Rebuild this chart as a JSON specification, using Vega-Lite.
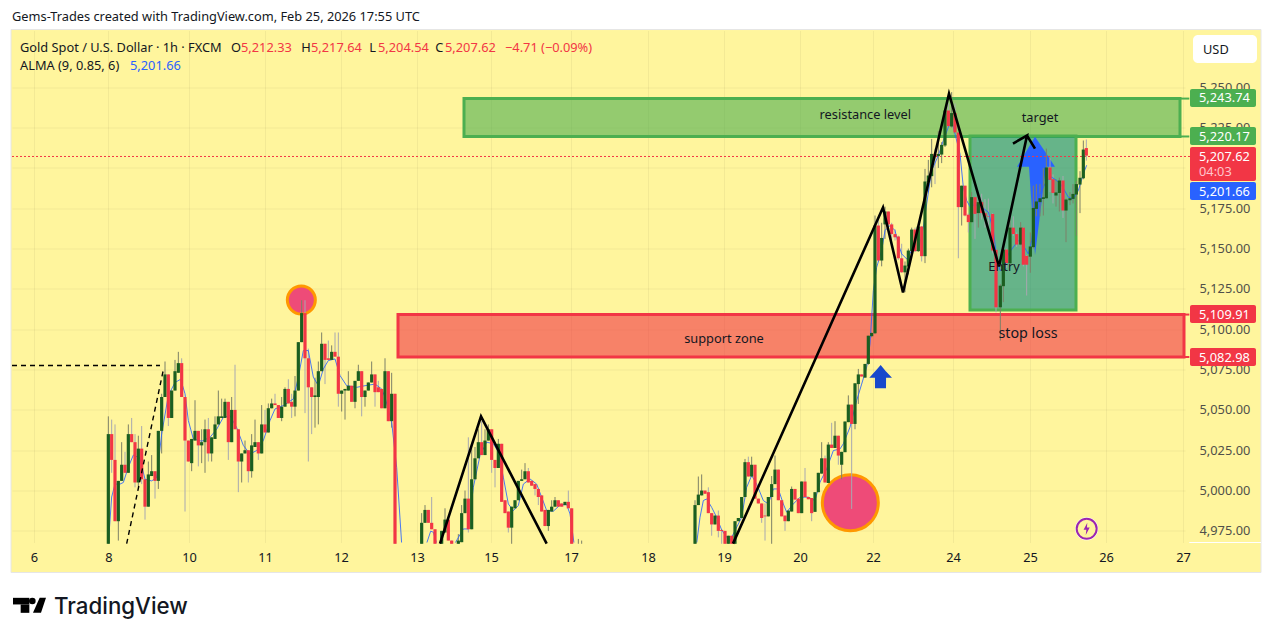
{"$schema":"https://vega.github.io/schema/vega-lite/v6.json","width":1173,"height":512,"autosize":"none","padding":{"left":12,"top":30.5,"right":87,"bottom":96.5},"background":"#FFF59D","view":{"stroke":null},"config":{"font":"Noto Sans","text":{"font":"Noto Sans"}},
"datasets":{"candles":[
{"b":0,"o":4967,"h":5046,"l":4967,"c":5035},{"b":1,"o":5035,"h":5044,"l":5011,"c":5019},{"b":2,"o":5019,"h":5041,"l":4981,"c":4981},{"b":3,"o":4981,"h":5006,"l":4969,"c":5006},{"b":4,"o":5006,"h":5030,"l":5006,"c":5016},{"b":5,"o":5016,"h":5024,"l":5011,"c":5011},{"b":6,"o":5011,"h":5041,"l":5011,"c":5035},{"b":7,"o":5035,"h":5045,"l":5030,"c":5030},{"b":8,"o":5030,"h":5035,"l":5002,"c":5005},{"b":9,"o":5005,"h":5034,"l":5002,"c":5026},
{"b":10,"o":5026,"h":5040,"l":5004,"c":5007},{"b":11,"o":5007,"h":5007,"l":4982,"c":4990},{"b":12,"o":4990,"h":5018,"l":4990,"c":5010},{"b":13,"o":5009,"h":5022,"l":5009,"c":5012},{"b":14,"o":5012,"h":5012,"l":4995,"c":5006},{"b":15,"o":5006,"h":5037,"l":5001,"c":5037},{"b":16,"o":5037,"h":5060,"l":5023,"c":5058},{"b":17,"o":5058,"h":5080,"l":5058,"c":5072},{"b":18,"o":5072,"h":5072,"l":5040,"c":5045},{"b":19,"o":5045,"h":5062,"l":5045,"c":5062},
{"b":20,"o":5062,"h":5081,"l":5062,"c":5074},{"b":21,"o":5073,"h":5086,"l":5073,"c":5079},{"b":22,"o":5079,"h":5082,"l":5058,"c":5058},{"b":23,"o":5058,"h":5058,"l":4987,"c":5031},{"b":24,"o":5031,"h":5031,"l":5018,"c":5018},{"b":25,"o":5017,"h":5032,"l":5012,"c":5032},{"b":26,"o":5031,"h":5056,"l":5031,"c":5037},{"b":27,"o":5037,"h":5037,"l":5015,"c":5028},{"b":28,"o":5028,"h":5038,"l":5017,"c":5030},{"b":29,"o":5030,"h":5044,"l":5011,"c":5038},
{"b":30,"o":5038,"h":5045,"l":5018,"c":5023},{"b":31,"o":5023,"h":5033,"l":5018,"c":5033},{"b":32,"o":5032,"h":5046,"l":5032,"c":5041},{"b":33,"o":5041,"h":5062,"l":5041,"c":5046},{"b":34,"o":5045,"h":5057,"l":5045,"c":5046},{"b":35,"o":5045,"h":5057,"l":5045,"c":5055},{"b":36,"o":5055,"h":5055,"l":5019,"c":5030},{"b":37,"o":5030,"h":5058,"l":5030,"c":5050},{"b":38,"o":5050,"h":5078,"l":5038,"c":5038},{"b":39,"o":5038,"h":5038,"l":4999,"c":5018},
{"b":40,"o":5018,"h":5023,"l":5005,"c":5023},{"b":41,"o":5023,"h":5031,"l":5023,"c":5025},{"b":42,"o":5025,"h":5025,"l":5005,"c":5012},{"b":43,"o":5012,"h":5035,"l":5008,"c":5028},{"b":44,"o":5027,"h":5044,"l":5027,"c":5030},{"b":45,"o":5030,"h":5030,"l":5019,"c":5023},{"b":46,"o":5023,"h":5053,"l":5023,"c":5041},{"b":47,"o":5041,"h":5050,"l":5036,"c":5036},{"b":48,"o":5036,"h":5054,"l":5036,"c":5051},{"b":49,"o":5051,"h":5057,"l":5051,"c":5054},
{"b":50,"o":5054,"h":5060,"l":5053,"c":5053},{"b":51,"o":5053,"h":5053,"l":5045,"c":5045},{"b":52,"o":5045,"h":5058,"l":5043,"c":5052},{"b":53,"o":5052,"h":5064,"l":5052,"c":5063},{"b":54,"o":5063,"h":5069,"l":5054,"c":5054},{"b":55,"o":5055,"h":5060,"l":5045,"c":5052},{"b":56,"o":5052,"h":5071,"l":5046,"c":5062},{"b":57,"o":5062,"h":5092,"l":5062,"c":5092},{"b":58,"o":5092,"h":5118,"l":5092,"c":5110},{"b":59,"o":5110,"h":5118,"l":5048,"c":5082},
{"b":60,"o":5082,"h":5088,"l":5018,"c":5064},{"b":61,"o":5064,"h":5064,"l":5035,"c":5058},{"b":62,"o":5058,"h":5070,"l":5039,"c":5059},{"b":63,"o":5058,"h":5080,"l":5041,"c":5074},{"b":64,"o":5074,"h":5098,"l":5074,"c":5091},{"b":65,"o":5091,"h":5091,"l":5066,"c":5081},{"b":66,"o":5082,"h":5093,"l":5081,"c":5081},{"b":67,"o":5081,"h":5090,"l":5081,"c":5086},{"b":68,"o":5086,"h":5098,"l":5083,"c":5083},{"b":69,"o":5083,"h":5098,"l":5052,"c":5060},
{"b":70,"o":5060,"h":5062,"l":5049,"c":5062},{"b":71,"o":5062,"h":5063,"l":5044,"c":5063},{"b":72,"o":5062,"h":5074,"l":5062,"c":5065},{"b":73,"o":5065,"h":5065,"l":5055,"c":5055},{"b":74,"o":5055,"h":5068,"l":5051,"c":5068},{"b":75,"o":5068,"h":5078,"l":5068,"c":5074},{"b":76,"o":5074,"h":5074,"l":5046,"c":5058},{"b":77,"o":5058,"h":5062,"l":5052,"c":5062},{"b":78,"o":5062,"h":5067,"l":5062,"c":5067},{"b":79,"o":5067,"h":5080,"l":5067,"c":5072},
{"b":80,"o":5072,"h":5072,"l":5052,"c":5061},{"b":81,"o":5064,"h":5068,"l":5061,"c":5061},{"b":82,"o":5063,"h":5063,"l":5051,"c":5051},{"b":83,"o":5051,"h":5082,"l":5051,"c":5074},{"b":84,"o":5074,"h":5074,"l":5043,"c":5043},{"b":85,"o":5043,"h":5073,"l":5039,"c":5060},{"b":86,"o":5060,"h":5060,"l":4967,"c":4967},
{"b":94,"o":4967,"h":4986,"l":4967,"c":4980},{"b":95,"o":4980,"h":4991,"l":4980,"c":4988},{"b":96,"o":4988,"h":4988,"l":4980,"c":4980},{"b":97,"o":4980,"h":4996,"l":4976,"c":4976},{"b":98,"o":4976,"h":4976,"l":4967,"c":4967},{"b":100,"o":4967,"h":4975,"l":4967,"c":4975},{"b":101,"o":4974,"h":4989,"l":4974,"c":4982},{"b":102,"o":4982,"h":4982,"l":4969,"c":4969},{"b":103,"o":4969,"h":4969,"l":4967,"c":4967},{"b":105,"o":4967,"h":4973,"l":4967,"c":4969},
{"b":106,"o":4968,"h":4991,"l":4968,"c":4986},{"b":107,"o":4986,"h":5000,"l":4986,"c":4995},{"b":108,"o":4995,"h":5033,"l":4974,"c":4976},{"b":109,"o":4976,"h":5029,"l":4976,"c":5007},{"b":110,"o":5007,"h":5027,"l":5007,"c":5020},{"b":111,"o":5020,"h":5038,"l":5020,"c":5030},{"b":112,"o":5030,"h":5043,"l":5022,"c":5022},{"b":113,"o":5022,"h":5038,"l":5022,"c":5031},{"b":114,"o":5031,"h":5041,"l":5031,"c":5038},{"b":115,"o":5038,"h":5038,"l":5011,"c":5019},
{"b":116,"o":5019,"h":5019,"l":5002,"c":5014},{"b":117,"o":5014,"h":5032,"l":5014,"c":5029},{"b":118,"o":5029,"h":5029,"l":4993,"c":4993},{"b":119,"o":4994,"h":4994,"l":4986,"c":4986},{"b":120,"o":4987,"h":4987,"l":4974,"c":4977},{"b":121,"o":4977,"h":4990,"l":4967,"c":4990},{"b":122,"o":4989,"h":4994,"l":4989,"c":4994},{"b":123,"o":4994,"h":5006,"l":4994,"c":5006},{"b":124,"o":5006,"h":5013,"l":5006,"c":5007},{"b":125,"o":5007,"h":5017,"l":5007,"c":5012},
{"b":126,"o":5012,"h":5014,"l":5005,"c":5005},{"b":127,"o":5006,"h":5006,"l":5003,"c":5003},{"b":128,"o":5004,"h":5004,"l":4997,"c":5001},{"b":129,"o":5001,"h":5001,"l":4991,"c":4996},{"b":130,"o":4997,"h":4997,"l":4987,"c":4987},{"b":131,"o":4988,"h":4988,"l":4978,"c":4978},{"b":132,"o":4978,"h":4988,"l":4975,"c":4988},{"b":133,"o":4987,"h":4994,"l":4987,"c":4990},{"b":134,"o":4990,"h":4996,"l":4990,"c":4994},{"b":135,"o":4994,"h":4994,"l":4990,"c":4990},
{"b":136,"o":4992,"h":4992,"l":4990,"c":4990},{"b":137,"o":4991,"h":4993,"l":4991,"c":4993},{"b":138,"o":4993,"h":5000,"l":4989,"c":4989},{"b":139,"o":4989,"h":4989,"l":4967,"c":4967},{"b":141,"o":4967,"h":4970,"l":4967,"c":4967},{"b":142,"o":4967,"h":4969,"l":4967,"c":4967},
{"b":176,"o":4967,"h":4994,"l":4967,"c":4991},{"b":177,"o":4991,"h":5008.7,"l":4991,"c":4997.5},{"b":178,"o":4997,"h":5010,"l":4997,"c":5000},{"b":179,"o":5000,"h":5000,"l":4998,"c":4998},{"b":180,"o":4999,"h":5002,"l":4986,"c":4986},{"b":181,"o":4986,"h":4986,"l":4972,"c":4979},{"b":182,"o":4979,"h":4984.5,"l":4979,"c":4984.5},{"b":183,"o":4984.5,"h":4987.6,"l":4971,"c":4975},{"b":184,"o":4975.6,"h":4976,"l":4967,"c":4975},{"b":185,"o":4975,"h":4975,"l":4967,"c":4967},
{"b":186,"o":4967,"h":4972,"l":4967,"c":4972},{"b":187,"o":4972,"h":4972,"l":4967,"c":4967},{"b":188,"o":4967,"h":4981,"l":4967,"c":4981},{"b":189,"o":4981,"h":4983,"l":4981,"c":4983},{"b":190,"o":4983,"h":4996,"l":4983,"c":4996},{"b":191,"o":4996,"h":5019.6,"l":4996,"c":5017.6},{"b":192,"o":5017.6,"h":5021,"l":5008.7,"c":5008.7},{"b":193,"o":5008.7,"h":5021,"l":5008.7,"c":5016},{"b":194,"o":5016,"h":5016,"l":4995,"c":4995},{"b":195,"o":4995,"h":4995,"l":4992,"c":4992},
{"b":196,"o":4992,"h":4992,"l":4980,"c":4983},{"b":197,"o":4984.5,"h":4992,"l":4969,"c":4984},{"b":198,"o":4984,"h":4996,"l":4984,"c":4996},{"b":199,"o":4996,"h":5009,"l":4967,"c":5004},{"b":200,"o":5004,"h":5021.7,"l":5004,"c":5013},{"b":201,"o":5013,"h":5013,"l":4994,"c":4994},{"b":202,"o":4994,"h":4994,"l":4984,"c":4984},{"b":203,"o":4984.5,"h":4984.5,"l":4975,"c":4981},{"b":204,"o":4981,"h":4987.6,"l":4981,"c":4987.6},{"b":205,"o":4987,"h":5002.5,"l":4987,"c":5001},
{"b":206,"o":5001,"h":5001,"l":4994.4,"c":4994.4},{"b":207,"o":4995,"h":4995,"l":4986,"c":4986},{"b":208,"o":4986,"h":5005.6,"l":4986,"c":5005.6},{"b":209,"o":5005.6,"h":5014,"l":4996,"c":4996},{"b":210,"o":4996,"h":4996,"l":4994.6,"c":4994.6},{"b":211,"o":4995.4,"h":4995.4,"l":4981,"c":4986},{"b":212,"o":4986.8,"h":4999,"l":4986.8,"c":4999},{"b":213,"o":4999,"h":5011,"l":4999,"c":5011},{"b":214,"o":5010.5,"h":5030,"l":5010.5,"c":5020},{"b":215,"o":5020,"h":5021.7,"l":5005,"c":5005},
{"b":216,"o":5004.7,"h":5030,"l":5004.7,"c":5028.5},{"b":217,"o":5028.5,"h":5042,"l":5026.4,"c":5026.4},{"b":218,"o":5026.4,"h":5043,"l":5026.4,"c":5034},{"b":219,"o":5034,"h":5034,"l":5016,"c":5021.7},{"b":220,"o":5016,"h":5024,"l":5007,"c":5024},{"b":221,"o":5023.8,"h":5042.8,"l":5023.8,"c":5042.8},{"b":222,"o":5042.4,"h":5059,"l":5042.4,"c":5053.3},{"b":223,"o":5053.3,"h":5053.3,"l":4988.6,"c":5041.3},{"b":224,"o":5041.3,"h":5066.5,"l":5038,"c":5066.5},{"b":225,"o":5066,"h":5075.4,"l":5053.7,"c":5072},
{"b":226,"o":5072,"h":5072,"l":5070.7,"c":5070.7},{"b":227,"o":5070,"h":5078.5,"l":5070,"c":5078.5},{"b":228,"o":5078.5,"h":5096,"l":5078,"c":5096},{"b":229,"o":5095.7,"h":5098,"l":5095,"c":5097.7},{"b":230,"o":5097.5,"h":5170.5,"l":5097,"c":5164.3},{"b":231,"o":5164.3,"h":5168,"l":5142,"c":5142.6},{"b":232,"o":5142.6,"h":5166,"l":5139,"c":5156.6},{"b":233,"o":5165,"h":5176,"l":5156,"c":5173},{"b":234,"o":5173,"h":5173,"l":5161,"c":5165},{"b":235,"o":5165,"h":5166,"l":5155,"c":5159},
{"b":236,"o":5159,"h":5162,"l":5155,"c":5157},{"b":237,"o":5157.5,"h":5158,"l":5143,"c":5144},{"b":238,"o":5144,"h":5153,"l":5135,"c":5135.3},{"b":239,"o":5135.3,"h":5142,"l":5123,"c":5139.5},{"b":240,"o":5138.9,"h":5150,"l":5134,"c":5148.8},{"b":241,"o":5148.4,"h":5163,"l":5148,"c":5161.8},{"b":242,"o":5161.8,"h":5163,"l":5148,"c":5148.4},{"b":243,"o":5148.4,"h":5165,"l":5148,"c":5163.7},{"b":244,"o":5163.7,"h":5164,"l":5142,"c":5145.3},{"b":245,"o":5145.3,"h":5199.4,"l":5141,"c":5191.6},
{"b":246,"o":5191.2,"h":5205,"l":5185,"c":5195.3},{"b":247,"o":5194.9,"h":5218,"l":5188,"c":5208.7},{"b":248,"o":5208.7,"h":5212,"l":5190,"c":5206.7},{"b":249,"o":5207.3,"h":5223,"l":5200,"c":5208.7},{"b":250,"o":5208.3,"h":5216,"l":5203,"c":5214.3},{"b":251,"o":5213.9,"h":5237,"l":5213,"c":5235.6},{"b":252,"o":5235.6,"h":5240,"l":5225,"c":5225.9},{"b":253,"o":5225.7,"h":5247,"l":5225,"c":5234},{"b":254,"o":5234,"h":5240,"l":5222,"c":5222},{"b":255,"o":5222,"h":5222,"l":5144,"c":5175.7},
{"b":256,"o":5175.7,"h":5189,"l":5164.3,"c":5189},{"b":257,"o":5189,"h":5189,"l":5170,"c":5170.5},{"b":258,"o":5171,"h":5172,"l":5160,"c":5166.4},{"b":259,"o":5166.4,"h":5185,"l":5166,"c":5181.9},{"b":260,"o":5181.9,"h":5182,"l":5156,"c":5171.5},{"b":261,"o":5172,"h":5179,"l":5163,"c":5178.8},{"b":262,"o":5178.8,"h":5184,"l":5168,"c":5172},{"b":263,"o":5172,"h":5180.8,"l":5163,"c":5170},{"b":264,"o":5170,"h":5181,"l":5160,"c":5169.7},
{"b":265.3,"o":5171.5,"h":5172,"l":5147,"c":5148.8},{"b":266.3,"o":5149.2,"h":5150,"l":5110.5,"c":5113.6},{"b":267.6,"o":5113.6,"h":5128,"l":5093,"c":5127},{"b":268.5,"o":5126.7,"h":5150,"l":5116.8,"c":5149.4},{"b":269.5,"o":5149.4,"h":5150,"l":5138,"c":5141},{"b":270.5,"o":5140.9,"h":5169,"l":5140,"c":5163},{"b":271.5,"o":5163,"h":5170,"l":5158,"c":5159},{"b":272.5,"o":5159,"h":5160,"l":5151,"c":5152.5},{"b":273.7,"o":5152.5,"h":5166.4,"l":5152,"c":5163},{"b":274.5,"o":5163,"h":5163,"l":5139,"c":5140},
{"b":275.5,"o":5145.5,"h":5146,"l":5120.9,"c":5140},{"b":276.6,"o":5145,"h":5160,"l":5135,"c":5151.3},{"b":277.5,"o":5150.9,"h":5189,"l":5150,"c":5175.2},{"b":278.4,"o":5174.6,"h":5190,"l":5170,"c":5179.2},{"b":279.5,"o":5178.8,"h":5190,"l":5170,"c":5181.2},{"b":280.5,"o":5180.8,"h":5200,"l":5170.5,"c":5181.8},{"b":281.4,"o":5181.2,"h":5212,"l":5181,"c":5200.3},{"b":282.5,"o":5200.3,"h":5206,"l":5185,"c":5192.6},{"b":283.4,"o":5193,"h":5196,"l":5178,"c":5184.5},{"b":284.3,"o":5182.9,"h":5193,"l":5176,"c":5184.8},
{"b":285.3,"o":5184.5,"h":5194,"l":5173,"c":5192.2},{"b":286.4,"o":5192.2,"h":5195,"l":5169,"c":5173.6},{"b":287.3,"o":5173.6,"h":5181,"l":5154,"c":5180.4},{"b":288.5,"o":5180,"h":5185,"l":5177,"c":5181.2},{"b":289.4,"o":5180.8,"h":5190,"l":5178,"c":5183.9},{"b":290.4,"o":5183.5,"h":5192,"l":5158,"c":5190},{"b":291.5,"o":5189.7,"h":5198,"l":5172,"c":5193.9},{"b":292.5,"o":5193.6,"h":5217,"l":5193,"c":5211.4},{"b":293.4,"o":5212.33,"h":5217.64,"l":5204.54,"c":5207.62}
],
"alma":[
{"s":1,"b":0,"p":4967},{"s":1,"b":1,"p":4996},{"s":1,"b":2,"p":5004},{"s":1,"b":3.5,"p":5004},{"s":1,"b":4.5,"p":5005},{"s":1,"b":6,"p":5014.5},{"s":1,"b":7.5,"p":5022},{"s":1,"b":9.5,"p":5020},{"s":1,"b":11,"p":5007},{"s":1,"b":13,"p":5006},{"s":1,"b":14.5,"p":5008},{"s":1,"b":16,"p":5035},{"s":1,"b":18,"p":5059},{"s":1,"b":20,"p":5067},{"s":1,"b":21.7,"p":5069},{"s":1,"b":23,"p":5060},{"s":1,"b":24,"p":5043.4},{"s":1,"b":25.5,"p":5032},{"s":1,"b":28,"p":5030.6},{"s":1,"b":30.5,"p":5033},{"s":1,"b":32.5,"p":5038},{"s":1,"b":34.5,"p":5045.4},{"s":1,"b":36.5,"p":5046.5},{"s":1,"b":38.5,"p":5039},{"s":1,"b":40.5,"p":5028},{"s":1,"b":42.5,"p":5022.7},{"s":1,"b":44.5,"p":5024.8},{"s":1,"b":46.5,"p":5031},{"s":1,"b":48.5,"p":5043.4},{"s":1,"b":50,"p":5050.6},{"s":1,"b":52.5,"p":5052.7},{"s":1,"b":55.5,"p":5056.8},{"s":1,"b":57,"p":5070.3},{"s":1,"b":58.5,"p":5086.8},{"s":1,"b":60,"p":5086.8},{"s":1,"b":61.5,"p":5070.3},{"s":1,"b":63,"p":5065},{"s":1,"b":64.5,"p":5075.4},{"s":1,"b":66,"p":5080.6},{"s":1,"b":68,"p":5081.6},{"s":1,"b":69.5,"p":5071.3},{"s":1,"b":71.5,"p":5065},{"s":1,"b":74.5,"p":5064},{"s":1,"b":77,"p":5065},{"s":1,"b":80,"p":5066},{"s":1,"b":82,"p":5063},{"s":1,"b":83,"p":5057.9},{"s":1,"b":85,"p":5042.4},{"s":1,"b":86.5,"p":5014.4},{"s":1,"b":88,"p":4967},
{"s":2,"b":95.5,"p":4967.3},{"s":2,"b":96.7,"p":4974.8},{"s":2,"b":97.5,"p":4974.2},{"s":2,"b":98.5,"p":4967.3},
{"s":3,"b":104,"p":4967.3},{"s":3,"b":106.5,"p":4976.2},{"s":3,"b":108,"p":4976.2},{"s":3,"b":109.5,"p":5002},{"s":3,"b":111.5,"p":5021.7},{"s":3,"b":113.5,"p":5030},{"s":3,"b":115.5,"p":5029},{"s":3,"b":117,"p":5023.8},{"s":3,"b":118.5,"p":5008.3},{"s":3,"b":120,"p":4991.7},{"s":3,"b":121.5,"p":4987.6},{"s":3,"b":123,"p":4990.7},{"s":3,"b":124.5,"p":5004},{"s":3,"b":126.5,"p":5007.2},{"s":3,"b":128.5,"p":5004},{"s":3,"b":130,"p":4995.9},{"s":3,"b":131.5,"p":4987.6},{"s":3,"b":133.5,"p":4987.2},{"s":3,"b":135.5,"p":4991},{"s":3,"b":137.5,"p":4991.3},{"s":3,"b":138.5,"p":4985.5},{"s":3,"b":139.7,"p":4967.3},
{"s":4,"b":176.5,"p":4967.3},{"s":4,"b":177.5,"p":4983.4},{"s":4,"b":178.5,"p":4993.8},{"s":4,"b":179.5,"p":4994.8},{"s":4,"b":181,"p":4989.6},{"s":4,"b":182.5,"p":4983.4},{"s":4,"b":184,"p":4975.6},{"s":4,"b":185.5,"p":4971},{"s":4,"b":186.5,"p":4969},{"s":4,"b":188,"p":4975.2},{"s":4,"b":190,"p":4983.4},{"s":4,"b":191.5,"p":5002},{"s":4,"b":193,"p":5009.3},{"s":4,"b":194.5,"p":5004},{"s":4,"b":196.5,"p":4993.8},{"s":4,"b":198,"p":4991.7},{"s":4,"b":199.5,"p":5001},{"s":4,"b":201,"p":5001},{"s":4,"b":202.5,"p":4991.7},{"s":4,"b":203.5,"p":4986.6},{"s":4,"b":205.5,"p":4991.7},{"s":4,"b":207.5,"p":4995.9},{"s":4,"b":210,"p":4995.9},{"s":4,"b":212,"p":4993.8},{"s":4,"b":213.5,"p":5005.2},{"s":4,"b":215.5,"p":5013.4},{"s":4,"b":217.5,"p":5024.8},{"s":4,"b":219.5,"p":5025.8},{"s":4,"b":220.5,"p":5029},{"s":4,"b":222.5,"p":5039.3},{"s":4,"b":224.5,"p":5055.8},{"s":4,"b":226,"p":5066},{"s":4,"b":227.5,"p":5076.5},{"s":4,"b":228.5,"p":5090.9},{"s":4,"b":229.5,"p":5124},{"s":4,"b":230.5,"p":5138.4},{"s":4,"b":232,"p":5148.8},{"s":4,"b":233,"p":5161.2},{"s":4,"b":234.5,"p":5164.3},{"s":4,"b":236,"p":5161.2},{"s":4,"b":237,"p":5152.9},{"s":4,"b":238,"p":5146.7},{"s":4,"b":239.5,"p":5143.6},{"s":4,"b":241,"p":5148.8},{"s":4,"b":243,"p":5148.8},{"s":4,"b":244.5,"p":5163.3},{"s":4,"b":245.5,"p":5177.7},{"s":4,"b":247,"p":5198.4},{"s":4,"b":249,"p":5207.7},{"s":4,"b":250.5,"p":5217},{"s":4,"b":252,"p":5225.3},{"s":4,"b":253,"p":5229.4},{"s":4,"b":255.5,"p":5208.7},{"s":4,"b":256.5,"p":5188},{"s":4,"b":257.5,"p":5179.8},{"s":4,"b":258.5,"p":5176},{"s":4,"b":260,"p":5177.3},{"s":4,"b":262,"p":5175.7},{"s":4,"b":264,"p":5172.6},{"s":4,"b":265.5,"p":5161.2},{"s":4,"b":266.5,"p":5144.7},{"s":4,"b":267.5,"p":5136.4},{"s":4,"b":268.5,"p":5137.4},{"s":4,"b":270,"p":5146.7},{"s":4,"b":271.5,"p":5150.9},{"s":4,"b":273,"p":5155},{"s":4,"b":274.5,"p":5151.9},{"s":4,"b":276,"p":5146.7},{"s":4,"b":277,"p":5155},{"s":4,"b":278,"p":5173.6},{"s":4,"b":279.5,"p":5183.9},{"s":4,"b":281.5,"p":5192.2},{"s":4,"b":283,"p":5194.3},{"s":4,"b":284.5,"p":5192.2},{"s":4,"b":286,"p":5189.1},{"s":4,"b":288,"p":5181.9},{"s":4,"b":289.5,"p":5180.8},{"s":4,"b":291,"p":5186},{"s":4,"b":292.5,"p":5196.3},{"s":4,"b":293.5,"p":5201.66}
]},
"encoding":{
"x":{"field":"b","type":"quantitative","title":null,"scale":{"domain":[-28.9,323],"nice":false,"zero":false,"padding":0},"axis":{"title":null,"values":[-22.3,0,24.2,47,69.8,92.6,114.8,138.8,161.9,184.7,207.5,229.4,253.4,276.5,299.3,322.4],"labelExpr":"{'-22.3':'6','0':'8','24.2':'10','47':'11','69.8':'12','92.6':'13','114.8':'15','138.8':'17','161.9':'18','184.7':'19','207.5':'20','229.4':'22','253.4':'24','276.5':'25','299.3':'26','322.4':'27'}['' + datum.value]","grid":true,"gridColor":"#7a7a50","gridOpacity":0.09,"domain":false,"ticks":false,"labelPadding":9,"labelFontSize":12.8,"labelColor":"#131722","labelFlush":false,"labelOverlap":false,"labelAngle":0}},
"y":{"field":"p","type":"quantitative","title":null,"scale":{"domain":[4967.8,5285.2],"nice":false,"zero":false,"padding":0},"axis":{"title":null,"orient":"right","values":[4975,5000,5025,5050,5075,5100,5125,5150,5175,5200,5225,5250],"format":",.2f","grid":true,"gridColor":"#7a7a50","gridOpacity":0.09,"domain":false,"ticks":false,"labelPadding":14,"labelFontSize":12.8,"labelColor":"#50504a","labelOverlap":false}}
},
"layer":[
{"data":{"values":[{"zone":"resistance","b":106.7,"b2":321.5,"p":5243,"p2":5219.5}]},"mark":{"type":"rect","fill":"#4CAF50","fillOpacity":0.6,"stroke":"#4CAF50","strokeWidth":3},"encoding":{"x2":{"field":"b2"},"y2":{"field":"p2"}}},
{"data":{"values":[{"zone":"support","b":86.9,"b2":322.7,"p":5109.1,"p2":5082.8}]},"mark":{"type":"rect","fill":"#F23645","fillOpacity":0.6,"stroke":"#F23645","strokeWidth":3},"encoding":{"x2":{"field":"b2"},"y2":{"field":"p2"}}},
{"data":{"values":[{"zone":"target","b":258.5,"b2":290.3,"p":5219.8,"p2":5111.9}]},"mark":{"type":"rect","fill":"#00897B","fillOpacity":0.6,"stroke":"#4CAF50","strokeWidth":3},"encoding":{"x2":{"field":"b2"},"y2":{"field":"p2"}}},
{"data":{"values":[{"b":321.5,"b2":324.3,"p":5243},{"b":321.5,"b2":324.3,"p":5219.5}]},"mark":{"type":"rule","stroke":"#4CAF50","strokeWidth":2},"encoding":{"x2":{"field":"b2"}}},
{"data":{"values":[{"b":322.7,"b2":324.3,"p":5109.1},{"b":322.7,"b2":324.3,"p":5082.8}]},"mark":{"type":"rule","stroke":"#F23645","strokeWidth":2},"encoding":{"x2":{"field":"b2"}}},
{"data":{"values":[{"b":272.6,"p":5200.8,"p2":5200.8},{"b":276.2,"p":5213.2,"p2":5200.8},{"b":278,"p":5219.4,"p2":5146},{"b":281.3,"p":5209.3,"p2":5200.8},{"b":284,"p":5200.8,"p2":5200.8}]},"mark":{"type":"area","fill":"#2962FF","orient":"vertical"},"encoding":{"y2":{"field":"p2"}}},
{"data":{"values":[{"b":228.3,"p":5069.9,"p2":5069.9},{"b":229.98,"p":5073.8,"p2":5069.9},{"b":230,"p":5073.8,"p2":5063.4},{"b":231.7,"p":5077.8,"p2":5063.4},{"b":233.3,"p":5073.8,"p2":5063.4},{"b":233.32,"p":5073.8,"p2":5069.9},{"b":235.1,"p":5069.9,"p2":5069.9}]},"mark":{"type":"area","fill":"#1848CC","orient":"vertical"},"encoding":{"y2":{"field":"p2"}}},
{"data":{"values":[{"b":57.9,"p":5118.1}]},"mark":{"type":"point","filled":true,"fill":"#EE4B78","fillOpacity":1,"stroke":"#FF9800","strokeWidth":3,"strokeOpacity":1,"size":784}},
{"data":{"values":[{"b":222.6,"p":4992.4}]},"mark":{"type":"point","filled":true,"fill":"#EE4B78","fillOpacity":1,"stroke":"#FF9800","strokeWidth":3,"strokeOpacity":1,"size":3136}},
{"data":{"values":[{"b":-28.9,"b2":324.5,"p":5207.1}]},"mark":{"type":"rule","stroke":"#F23645","strokeWidth":1,"strokeDash":[2,2]},"encoding":{"x2":{"field":"b2"}}},
{"data":{"name":"candles"},"mark":{"type":"rule","strokeWidth":1},"encoding":{"y":{"field":"h","type":"quantitative","title":null},"y2":{"field":"l"},"color":{"condition":{"test":"datum.c >= datum.o","value":"#7d8068"},"value":"#a8a8b0"}}},
{"data":{"name":"alma"},"mark":{"type":"line","stroke":"#2962FF","strokeWidth":1,"strokeOpacity":0.85,"clip":true},"encoding":{"detail":{"field":"s"}}},
{"data":{"name":"candles"},"mark":{"type":"bar","size":3.2},"encoding":{"y":{"field":"o","type":"quantitative","title":null},"y2":{"field":"c"},"color":{"condition":{"test":"datum.c >= datum.o","value":"#1B5E20"},"value":"#F23645"}}},
{"data":{"values":[{"s":"a","i":1,"b":187.4,"p":4967.1},{"s":"a","i":2,"b":232.4,"p":5175.5},{"s":"a","i":3,"b":238.4,"p":5122.8},{"s":"a","i":4,"b":252.2,"p":5246.1},{"s":"a","i":5,"b":267.2,"p":5138.9},{"s":"a","i":6,"b":275.6,"p":5220.1},{"s":"a","i":7,"b":271.4,"p":5215.1},{"s":"a","i":8,"b":275.6,"p":5220.1},{"s":"a","i":9,"b":278,"p":5212},{"s":"b","i":1,"b":99.5,"p":4967.1},{"s":"b","i":2,"b":111.8,"p":5046},{"s":"b","i":3,"b":131.5,"p":4967.1}]},"mark":{"type":"line","stroke":"#000000","strokeWidth":2.6},"encoding":{"detail":{"field":"s"},"order":{"field":"i"}}},
{"data":{"values":[{"s":"h","i":1,"b":-28.9,"p":5077.5},{"s":"h","i":2,"b":15.5,"p":5077.5},{"s":"v","i":1,"b":16.4,"p":5073.8},{"s":"v","i":2,"b":5.5,"p":4967.1}]},"mark":{"type":"line","stroke":"#000000","strokeWidth":1.4,"strokeDash":[5,4]},"encoding":{"detail":{"field":"s"},"order":{"field":"i"}}},
{"data":{"values":[{"b":293.5,"p":4976.3}]},"mark":{"type":"point","filled":true,"fill":"#FFFFFF","fillOpacity":1,"size":529}},
{"data":{"values":[{"b":293.5,"p":4976.3}]},"mark":{"type":"point","filled":true,"fill":"#FFF59D","fillOpacity":1,"stroke":"#9C27B0","strokeWidth":2,"strokeOpacity":1,"size":400}},
{"data":{"values":[{"b":293.5,"p":4976.3}]},"mark":{"type":"point","filled":true,"fill":"#9C27B0","fillOpacity":1,"size":150,"shape":"M0.1,-1L-0.5,0.15L-0.05,0.15L-0.15,1L0.5,-0.2L0.05,-0.2Z"}},
{"data":{"values":[{"t":"resistance level","b":227.1,"p":5232.8},{"t":"target","b":279.5,"p":5230.9},{"t":"support zone","b":184.7,"p":5094},{"t":"Entry","b":268.7,"p":5138.6}]},"mark":{"type":"text","align":"center","baseline":"middle","fontSize":12.8,"color":"#131722"},"encoding":{"text":{"field":"t"}}},
{"data":{"values":[{"t":"stop loss","b":275.9,"p":5097}]},"mark":{"type":"text","align":"center","baseline":"middle","fontSize":14.3,"color":"#131722"},"encoding":{"text":{"field":"t"}}},
{"data":{"values":[{"pos":"top","b":-33,"b2":350,"p":5305,"p2":5285.8},{"pos":"bottom","b":-33,"b2":350,"p":4949.2,"p2":4907},{"pos":"left","b":-33,"b2":-29.2,"p":5305,"p2":4907},{"pos":"right","b":345.8,"b2":350,"p":5305,"p2":4907}]},"mark":{"type":"rect","fill":"#FFFFFF"},"encoding":{"x2":{"field":"b2"},"y2":{"field":"p2"}}},
{"data":{"values":[{"b":-29.2,"b2":345.8,"p":5285.8,"p2":4949.2}]},"mark":{"type":"rect","fillOpacity":0,"stroke":"#E6E6E6","strokeWidth":1},"encoding":{"x2":{"field":"b2"},"y2":{"field":"p2"}}},
{"data":{"values":[{"b":324.3,"b2":345.8,"p":4967.8}]},"mark":{"type":"rule","stroke":"#FFFFFF","strokeWidth":1},"encoding":{"x2":{"field":"b2"}}},
{"data":{"values":[{"b":325.4,"b2":344.6,"p":5282.4,"p2":5265}]},"mark":{"type":"rect","fill":"#FFFFFF","cornerRadius":5},"encoding":{"x2":{"field":"b2"},"y2":{"field":"p2"}}},
{"data":{"values":[{"b":324.5,"b2":344.3,"p":5248.9,"p2":5237.8},{"b":324.5,"b2":344.3,"p":5225.4,"p2":5214.2}]},"mark":{"type":"rect","fill":"#4CAF50","cornerRadius":2},"encoding":{"x2":{"field":"b2"},"y2":{"field":"p2"}}},
{"data":{"values":[{"b":324.5,"b2":344.3,"p":5213,"p2":5191.9},{"b":324.5,"b2":344.3,"p":5115,"p2":5103.8},{"b":324.5,"b2":344.3,"p":5088.4,"p2":5077.2}]},"mark":{"type":"rect","fill":"#F23645","cornerRadius":2},"encoding":{"x2":{"field":"b2"},"y2":{"field":"p2"}}},
{"data":{"values":[{"b":324.5,"b2":344.3,"p":5191.3,"p2":5180.1}]},"mark":{"type":"rect","fill":"#2962FF","cornerRadius":2},"encoding":{"x2":{"field":"b2"},"y2":{"field":"p2"}}},
{"data":{"values":[{"t":"5,243.74","b":327.2,"p":5243.3},{"t":"5,220.17","b":327.2,"p":5219.4},{"t":"5,207.62","b":327.2,"p":5207},{"t":"5,201.66","b":327.2,"p":5185.3},{"t":"5,109.91","b":327.2,"p":5109},{"t":"5,082.98","b":327.2,"p":5082.4}]},"mark":{"type":"text","align":"left","baseline":"middle","fontSize":12.8,"color":"#FFFFFF"},"encoding":{"text":{"field":"t"}}},
{"data":{"values":[{"t":"04:03","b":327.2,"p":5197.7}]},"mark":{"type":"text","align":"left","baseline":"middle","fontSize":12.8,"color":"#FFC4CA"},"encoding":{"text":{"field":"t"}}},
{"data":{"values":[{"t":"USD","b":328.4,"p":5273.2},{"t":"Gems-Trades created with TradingView.com, Feb 25, 2026 17:55 UTC","b":-28.9,"p":5293.4},{"t":"Gold Spot / U.S. Dollar · 1h · FXCM","b":-26.5,"p":5274.5},{"t":"O","b":36.8,"p":5274.5},{"t":"H","b":57.9,"p":5274.5},{"t":"L","b":78.3,"p":5274.5},{"t":"C","b":98.1,"p":5274.5},{"t":"ALMA (9, 0.85, 6)","b":-26.5,"p":5263.1}]},"mark":{"type":"text","align":"left","baseline":"middle","fontSize":12.8,"color":"#131722"},"encoding":{"text":{"field":"t"}}},
{"data":{"values":[{"t":"5,212.33","b":39.8,"p":5274.5},{"t":"5,217.64","b":60.8,"p":5274.5},{"t":"5,204.54","b":80.9,"p":5274.5},{"t":"5,207.62","b":101,"p":5274.5},{"t":"−4.71 (−0.09%)","b":119,"p":5274.5}]},"mark":{"type":"text","align":"left","baseline":"middle","fontSize":12.8,"color":"#F23645"},"encoding":{"text":{"field":"t"}}},
{"data":{"values":[{"t":"5,201.66","b":6.5,"p":5263.1}]},"mark":{"type":"text","align":"left","baseline":"middle","fontSize":12.8,"color":"#2962FF"},"encoding":{"text":{"field":"t"}}},
{"data":{"values":[{"part":"bar","b":-28.6,"b2":-23.7,"p":4933.5,"p2":4929.4},{"part":"stem","b":-26.3,"b2":-23.7,"p":4929.4,"p2":4924.2}]},"mark":{"type":"rect","fill":"#000000"},"encoding":{"x2":{"field":"b2"},"y2":{"field":"p2"}}},
{"data":{"values":[{"b":-22.8,"p":4931.5}]},"mark":{"type":"point","filled":true,"fill":"#000000","fillOpacity":1,"size":44}},
{"data":{"values":[{"i":1,"b":-22.6,"p":4924.2,"p2":4924.2},{"i":2,"b":-20.6,"p":4933.5,"p2":4924.2},{"i":3,"b":-20.2,"p":4933.5,"p2":4924.2},{"i":4,"b":-18.7,"p":4933.5,"p2":4933.5}]},"mark":{"type":"area","fill":"#000000","orient":"vertical"},"encoding":{"y2":{"field":"p2"}}},
{"data":{"values":[{"t":"TradingView","b":-16.3,"p":4927.8}]},"mark":{"type":"text","align":"left","baseline":"middle","font":"Inter","fontSize":22.3,"fontWeight":500,"color":"#131722"},"encoding":{"text":{"field":"t"}}}
]}
